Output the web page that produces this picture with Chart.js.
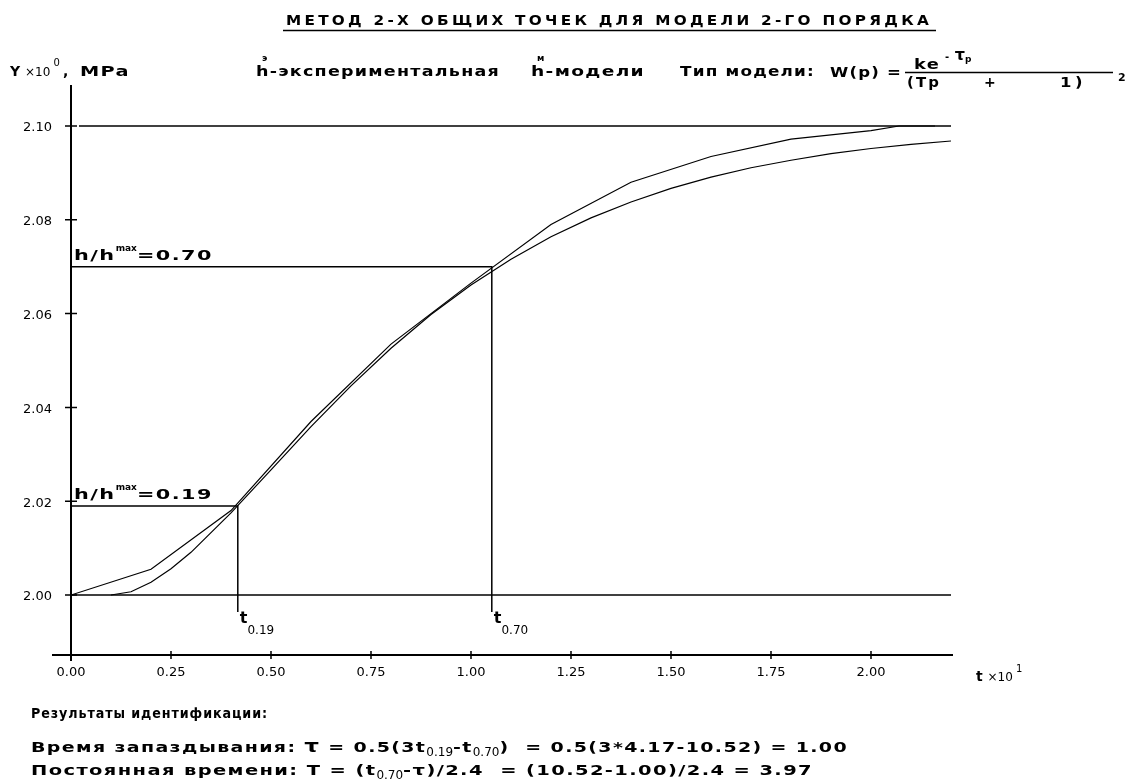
<!DOCTYPE html>
<html>
<head>
<meta charset="utf-8">
<script src="https://cdn.jsdelivr.net/npm/chart.js@4.4.0/dist/chart.umd.min.js"></script>
<style>
  html, body { margin: 0; padding: 0; background: #fff; }
  #wrap { width: 1136px; height: 783px; position: relative; }
</style>
</head>
<body>
<div id="wrap"><canvas id="chart"></canvas></div>
<script>
// experimental step response (t in units of 10 s, Y in MPa)
const expT = [0, 0.2, 0.4, 0.6, 0.8, 1.0, 1.2, 1.4, 1.6, 1.8, 2.0, 2.07, 2.16];
const expY = [2.0000, 2.0055, 2.0180, 2.0370, 2.0535, 2.0665, 2.0790, 2.0880, 2.0935, 2.0972, 2.0990, 2.1000, 2.1000];

// response of the identified 2nd order model
const modelT = [0.10, 0.15, 0.20, 0.25, 0.30, 0.40, 0.50, 0.60, 0.70, 0.80, 0.90, 1.00,
                1.10, 1.20, 1.30, 1.40, 1.50, 1.60, 1.70, 1.80, 1.90, 2.00, 2.10, 2.20];
const modelY = [2.0000, 2.0007, 2.0027, 2.0056, 2.0091, 2.0175, 2.0267, 2.0359, 2.0446, 2.0526, 2.0598, 2.0661,
                2.0716, 2.0764, 2.0804, 2.0838, 2.0867, 2.0891, 2.0911, 2.0927, 2.0941, 2.0952, 2.0961, 2.0968];

const yTicks = [2.00, 2.02, 2.04, 2.06, 2.08, 2.10];
const xTicks = [0, 0.25, 0.50, 0.75, 1.00, 1.25, 1.50, 1.75, 2.00];

const hStart = 2.00, hEnd = 2.10;
const levels = [0.19, 0.70];          // h/hmax
const levelT = [0.417, 1.052];        // t0.19, t0.70 (x10)
const levelLabels = ['0.19', '0.70'];

const levelY = levels.map(l => hStart + l * (hEnd - hStart));
const pts = (xs, ys) => xs.map((x, i) => ({ x: x, y: ys[i] }));

const B = 'bold 14px "DejaVu Sans"';
const S = '12px "DejaVu Sans"';
const SUP = 'bold 9px "DejaVu Sans"';
const TICK = '13px "DejaVu Sans"';

// draws text runs left to right; non-fixed runs are stretched horizontally
// so the whole line fills width. part = [text, font, dy, fixed]
function runs(ctx, x, y, parts, width, ls) {
  ls = ls === undefined ? 1 : ls;
  let flex = 0, fixed = 0;
  ctx.letterSpacing = '0px';
  const w = parts.map(p => {
    ctx.font = p[1];
    const m = ctx.measureText(p[0]).width + (p[3] ? 0 : ls * Array.from(p[0]).length);
    if (p[3]) fixed += m; else flex += m;
    return m;
  });
  const sx = width && flex ? (width - fixed) / flex : 1;
  let cx = x;
  parts.forEach((p, i) => {
    const s = p[3] ? 1 : sx;
    ctx.save();
    ctx.font = p[1];
    ctx.letterSpacing = (p[3] ? 0 : ls) + 'px';
    ctx.translate(cx, y + (p[2] || 0));
    ctx.scale(s, 1);
    ctx.fillText(p[0], 0, 0);
    ctx.restore();
    cx += w[i] * s;
  });
  ctx.letterSpacing = '0px';
}

const overlay = {
  id: 'overlay',
  afterDraw(chart) {
    const ctx = chart.ctx, xs = chart.scales.x, ys = chart.scales.y;
    const x0 = xs.getPixelForValue(0);
    const yb = ys.getPixelForValue(ys.min);
    const xr = xs.getPixelForValue(xs.max);
    ctx.save();
    ctx.strokeStyle = '#000';
    ctx.fillStyle = '#000';

    // axes
    ctx.lineWidth = 2;
    ctx.beginPath();
    ctx.moveTo(x0, ys.getPixelForValue(ys.max));
    ctx.lineTo(x0, yb + 6);
    ctx.moveTo(x0 - 19, yb);
    ctx.lineTo(xr + 2, yb);
    ctx.stroke();

    ctx.lineWidth = 1.5;
    ctx.beginPath();
    yTicks.forEach(v => { const p = ys.getPixelForValue(v); ctx.moveTo(x0 - 6, p); ctx.lineTo(x0 + 6, p); });
    xTicks.forEach(v => { const p = xs.getPixelForValue(v); ctx.moveTo(p, yb - 4); ctx.lineTo(p, yb + 4); });
    ctx.stroke();

    ctx.font = TICK;
    ctx.textAlign = 'right';
    ctx.textBaseline = 'middle';
    yTicks.forEach(v => ctx.fillText(v.toFixed(2), x0 - 19, ys.getPixelForValue(v) + 2));
    ctx.textAlign = 'center';
    ctx.textBaseline = 'top';
    xTicks.forEach(v => ctx.fillText(v.toFixed(2), xs.getPixelForValue(v), yb + 11));
    ctx.textAlign = 'left';
    ctx.textBaseline = 'alphabetic';

    // x axis name
    runs(ctx, 976, 681, [['t ', B, 0, 1], ['×10', S, 0, 1], [' 1', '10px "DejaVu Sans"', -9, 1]]);

    // title
    runs(ctx, 286, 25, [['МЕТОД 2-Х ОБЩИХ ТОЧЕК ДЛЯ МОДЕЛИ 2-ГО ПОРЯДКА', B]], 646, 3);
    ctx.lineWidth = 1.5;
    ctx.beginPath();
    ctx.moveTo(283, 30.5); ctx.lineTo(936, 30.5);
    ctx.stroke();

    // header row
    runs(ctx, 10, 76, [['Y ', B, 0, 1], ['×10', S, 0, 1], [' 0 ', '10px "DejaVu Sans"', -10, 1], [',', B, 0, 1]]);
    runs(ctx, 80, 76, [['MPa', B]], 50);
    runs(ctx, 256, 76, [['h-экспериментальная', B]], 244);
    runs(ctx, 262, 61, [['э', SUP]]);
    runs(ctx, 531, 76, [['h-модели', B]], 114);
    runs(ctx, 537, 61, [['м', SUP]]);
    runs(ctx, 680, 76, [['Тип модели:', B]], 135);
    runs(ctx, 830, 77, [['W(p) =', B]], 72);
    runs(ctx, 914, 69, [['ke', B]], 26);
    runs(ctx, 945, 60, [['-', 'bold 10px "DejaVu Sans"', 0, 1], [' τ', 'bold 16px "DejaVu Sans"', 0, 1], ['p', 'bold 9px "DejaVu Sans"', 2, 1]]);
    ctx.lineWidth = 1.5;
    ctx.beginPath();
    ctx.moveTo(905, 72.5); ctx.lineTo(1113, 72.5);
    ctx.stroke();
    runs(ctx, 907, 87, [['(Tp', B]], 34, 2);
    runs(ctx, 984, 87, [['+', B]]);
    runs(ctx, 1060, 87, [['1)', B]], 26, 3);
    runs(ctx, 1118, 81, [['2', 'bold 11px "DejaVu Sans"']]);

    // level labels and t marks
    levels.forEach((l, i) => {
      const py = ys.getPixelForValue(levelY[i]);
      runs(ctx, x0 + 3, py - 7, [['h/h', B], ['max', SUP, -9, 1], ['=' + l.toFixed(2), B]], 139);
      const px = xs.getPixelForValue(levelT[i]);
      runs(ctx, px + 2, ys.getPixelForValue(hStart) + 28,
        [['t', 'bold 16px "DejaVu Sans"', 0, 1], [levelLabels[i], S, 11, 1]]);
    });

    // identification results
    runs(ctx, 31, 718, [['Результаты идентификации:', B]], 237);
    runs(ctx, 31, 752, [
      ['Время запаздывания: ', B], ['τ', 'bold 17px "DejaVu Sans"'], [' = 0.5(3t', B],
      ['0.19', S, 4, 1], ['-t', B], ['0.70', S, 4, 1],
      [')  = 0.5(3*4.17-10.52) = 1.00', B]
    ], 817);
    runs(ctx, 31, 775, [
      ['Постоянная времени: T = (t', B], ['0.70', S, 4, 1],
      ['-τ)/2.4  = (10.52-1.00)/2.4 = 3.97', B]
    ], 782);

    ctx.restore();
  }
};

const lineSet = (data, width) => ({
  data: data,
  showLine: true,
  borderColor: '#000',
  borderWidth: width,
  pointRadius: 0,
  tension: 0,
  fill: false
});

const datasets = [
  lineSet(pts(expT, expY), 1.2),
  lineSet(pts(modelT, modelY), 1.2),
  lineSet([{ x: 0.02, y: hEnd }, { x: 2.2, y: hEnd }], 1.5),
  lineSet([{ x: 0, y: hStart }, { x: 2.2, y: hStart }], 1.5)
];
levels.forEach((l, i) => {
  datasets.push(lineSet([
    { x: 0, y: levelY[i] },
    { x: levelT[i], y: levelY[i] },
    { x: levelT[i], y: hStart - 0.0036 }
  ], 1.5));
});

new Chart(document.getElementById('chart'), {
  type: 'scatter',
  data: { datasets: datasets },
  options: {
    responsive: true,
    maintainAspectRatio: false,
    animation: false,
    layout: { padding: { left: 71, right: 185, top: 85, bottom: 128 } },
    scales: {
      x: { type: 'linear', min: 0, max: 2.2, display: false },
      y: { type: 'linear', min: 1.98721, max: 2.10874, display: false }
    },
    plugins: {
      legend: { display: false },
      tooltip: { enabled: false },
      title: { display: false }
    }
  },
  plugins: [overlay]
});
</script>
</body>
</html>
